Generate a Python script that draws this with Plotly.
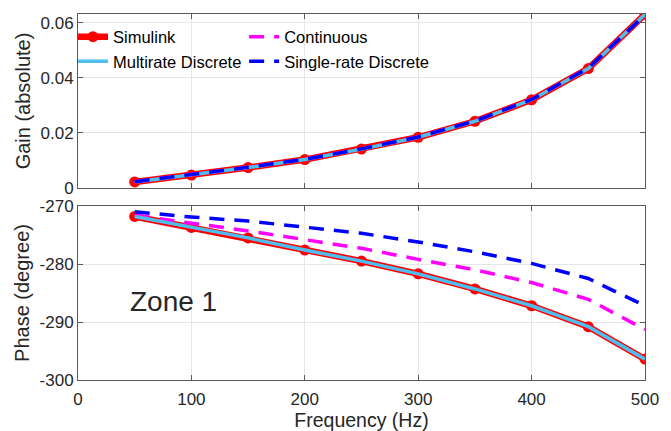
import plotly.graph_objects as go
from plotly.subplots import make_subplots

freq = [50, 100, 150, 200, 250, 300, 350, 400, 450, 500]

gain_simulink = [0.0022, 0.0047, 0.0074, 0.0103, 0.0141, 0.0184, 0.0242, 0.0320, 0.0433, 0.0630]
gain_continuous = [0.0023, 0.0048, 0.0075, 0.0104, 0.0142, 0.0185, 0.0243, 0.0321, 0.0435, 0.0628]
gain_multirate = [0.0022, 0.0047, 0.0074, 0.0103, 0.0141, 0.0184, 0.0242, 0.0320, 0.0433, 0.0630]
gain_single = [0.0023, 0.0048, 0.0075, 0.0104, 0.0142, 0.0185, 0.0243, 0.0321, 0.0435, 0.0628]

phase_simulink = [-271.8, -273.7, -275.5, -277.6, -279.5, -281.7, -284.3, -287.2, -290.8, -296.4]
phase_continuous = [-271.6, -272.9, -274.3, -275.8, -277.3, -279.2, -281.0, -283.2, -286.1, -291.3]
phase_multirate = [-271.8, -273.7, -275.5, -277.6, -279.5, -281.7, -284.3, -287.2, -290.8, -296.4]
phase_single = [-271.0, -271.9, -272.6, -273.7, -274.7, -276.2, -277.9, -279.9, -282.5, -287.2]

x_ticks = [0, 100, 200, 300, 400, 500]
gain_ticks = [0, 0.02, 0.04, 0.06]
gain_ticktext = ["0", "0.02", "0.04", "0.06"]
phase_ticks = [-300, -290, -280, -270]
phase_ticktext = ["-300", "-290", "-280", "-270"]

RED = "#FF0000"
MAG = "#FF00FF"
LBLUE = "#4DBEEE"
BLUE = "#0000FF"
TXT = "#262626"
FONT = "Liberation Sans, Arial, sans-serif"

fig = make_subplots(rows=2, cols=1, shared_xaxes=False, vertical_spacing=0.0492)

def add_series(row, sim, cont, multi, single, show):
    fig.add_trace(go.Scatter(x=freq, y=sim, name="Simulink", mode="lines+markers",
                             line=dict(color=RED, width=6.5), marker=dict(color=RED, size=11, symbol="circle"),
                             showlegend=show, legend="legend"), row=row, col=1)
    fig.add_trace(go.Scatter(x=freq, y=cont, name="Continuous", mode="lines",
                             line=dict(color=MAG, width=3.5, dash="15px,10px"),
                             showlegend=show, legend="legend2"), row=row, col=1)
    fig.add_trace(go.Scatter(x=freq, y=multi, name="Multirate Discrete", mode="lines",
                             line=dict(color=LBLUE, width=3.5),
                             showlegend=show, legend="legend"), row=row, col=1)
    fig.add_trace(go.Scatter(x=freq, y=single, name="Single-rate Discrete", mode="lines",
                             line=dict(color=BLUE, width=3.5, dash="15px,10px"),
                             showlegend=show, legend="legend2"), row=row, col=1)

add_series(1, gain_simulink, gain_continuous, gain_multirate, gain_single, True)
add_series(2, phase_simulink, phase_continuous, phase_multirate, phase_single, False)

axis_common = dict(showline=True, linecolor="#5a5a5a", linewidth=1, mirror="ticks",
                   ticks="inside", ticklen=5, tickcolor="#5a5a5a", automargin=False,
                   showgrid=True, gridcolor="#e6e6e6", gridwidth=1, zeroline=False,
                   tickfont=dict(family=FONT, size=17, color=TXT))

fig.update_xaxes(**axis_common, range=[0, 500], tickvals=x_ticks)
fig.update_xaxes(showticklabels=False, row=1, col=1)
fig.update_xaxes(ticklabelstandoff=4,
                 title=dict(text="Frequency (Hz)", font=dict(family=FONT, size=19.5, color=TXT), standoff=7),
                 row=2, col=1)

fig.update_yaxes(**axis_common)
fig.update_yaxes(range=[0, 0.0631], tickvals=gain_ticks, ticktext=gain_ticktext,
                 title=dict(text="Gain (absolute)", font=dict(family=FONT, size=20, color=TXT), standoff=4),
                 row=1, col=1)
fig.update_yaxes(range=[-300, -270], tickvals=phase_ticks, ticktext=phase_ticktext,
                 title=dict(text="Phase (degree)", font=dict(family=FONT, size=20, color=TXT), standoff=4),
                 row=2, col=1)

fig.add_annotation(x=84, y=-286.5, xref="x2", yref="y2", text="Zone 1", showarrow=False,
                   font=dict(family=FONT, size=28, color=TXT))

legend_common = dict(bgcolor="rgba(0,0,0,0)", borderwidth=0, xanchor="left", yanchor="top",
                     font=dict(family=FONT, size=16.5, color="#000000"), tracegroupgap=0,
                     itemwidth=30, orientation="v")
fig.update_layout(
    width=671, height=431,
    margin=dict(l=78, r=26, t=14, b=51),
    paper_bgcolor="white", plot_bgcolor="white",
    legend=dict(**legend_common, x=-0.0088, y=0.985),
    legend2=dict(**legend_common, x=0.293, y=0.985),
)

fig.write_html("out.html")
